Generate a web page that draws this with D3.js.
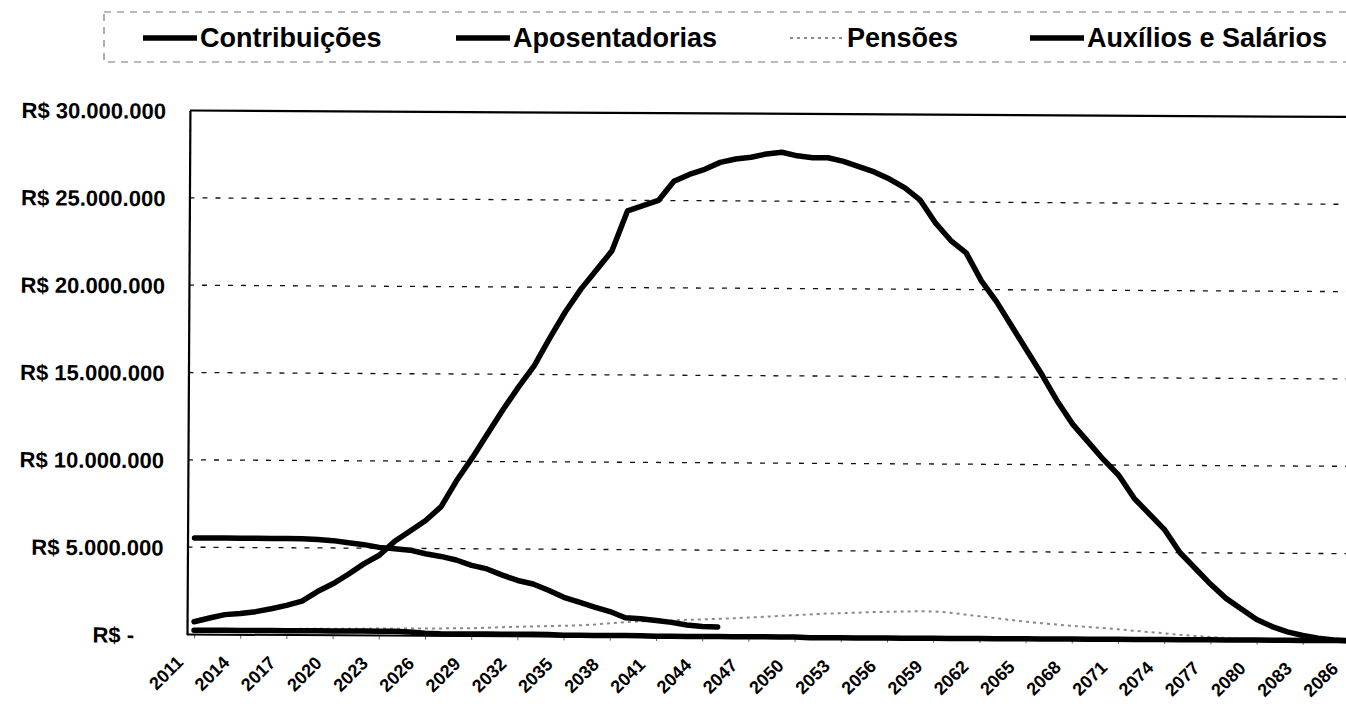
<!DOCTYPE html>
<html>
<head>
<meta charset="utf-8">
<script src="https://cdn.jsdelivr.net/npm/d3@7"></script>
<style>
  body { margin: 0; background: #fff; }
  svg { display: block; font-family: 'Liberation Sans', Arial, sans-serif; font-weight: bold; }
</style>
</head>
<body>
<svg id="chart"></svg>
<script>
const CHART_WIDTH = 1346
const CHART_HEIGHT = 704

// plot box (the right edge of the scanned chart is cut off by the picture)
const PLOT = { left: 187, right: 1365, top: 110.5, bottom: 634.5 }
const FIRST_X = 194
const LAST_X = 1349
const SCAN_TILT = 0.32

// ===================================================================

const YEARS = d3.range(2011, 2087)
const TICK_YEARS = [2011, 2014, 2017, 2020, 2023, 2026, 2029, 2032, 2035, 2038, 2041, 2044, 2047, 2050,
  2053, 2056, 2059, 2062, 2065, 2068, 2071, 2074, 2077, 2080, 2083, 2086]
const Y_TICKS = [0, 5, 10, 15, 20, 25, 30]

// values in millions of R$, one per year 2011..2086
const CONTRIBUICOES = [
  5.53, 5.53, 5.53, 5.53, 5.53, 5.53, 5.53, 5.52, 5.48, 5.42,
  5.30, 5.20, 5.05, 4.98, 4.90, 4.70, 4.55, 4.35, 4.05, 3.85,
  3.50, 3.20, 3.00, 2.65, 2.25, 1.98, 1.70, 1.45, 1.10, 1.05,
  0.95, 0.85, 0.70, 0.62, 0.60
]

const APOSENTADORIAS = [
  0.73, 0.95, 1.15, 1.22, 1.33, 1.50, 1.70, 1.95, 2.50, 2.95,
  3.50, 4.10, 4.60, 5.40, 6.00, 6.60, 7.40, 8.90, 10.2, 11.6,
  13.0, 14.3, 15.5, 17.1, 18.6, 19.9, 21.0, 22.1, 24.4, 24.7,
  25.0, 26.1, 26.5, 26.8, 27.2, 27.4, 27.5, 27.7, 27.8, 27.6,
  27.5, 27.5, 27.3, 27.0, 26.7, 26.3, 25.8, 25.1, 23.8, 22.8,
  22.1, 20.5, 19.3, 17.9, 16.5, 15.1, 13.6, 12.3, 11.3, 10.3,
  9.40, 8.10, 7.20, 6.30, 5.00, 4.10, 3.20, 2.40, 1.80, 1.20,
  0.80, 0.50, 0.30, 0.15, 0.05, 0.00
]

const PENSOES = [
  0.30, 0.30, 0.30, 0.32, 0.33, 0.34, 0.35, 0.36, 0.37, 0.38,
  0.38, 0.39, 0.40, 0.40, 0.41, 0.42, 0.43, 0.44, 0.45, 0.48,
  0.52, 0.55, 0.57, 0.60, 0.62, 0.65, 0.70, 0.78, 0.85, 0.90,
  0.93, 0.96, 1.00, 1.03, 1.07, 1.10, 1.15, 1.20, 1.25, 1.30,
  1.35, 1.40, 1.43, 1.46, 1.50, 1.52, 1.55, 1.56, 1.56, 1.50,
  1.40, 1.30, 1.20, 1.10, 1.00, 0.92, 0.85, 0.78, 0.72, 0.66,
  0.60, 0.52, 0.45, 0.38, 0.30, 0.24, 0.18, 0.13, 0.09, 0.06,
  0.04, 0.02, 0.01, 0.00, 0.00, 0.00
]

const AUXILIOS = [
  0.25, 0.25, 0.25, 0.25, 0.25, 0.25, 0.25, 0.25, 0.25, 0.25,
  0.25, 0.25, 0.25, 0.25, 0.22, 0.15, 0.12, 0.12, 0.12, 0.12,
  0.12, 0.12, 0.12, 0.12, 0.08, 0.08, 0.08, 0.08, 0.08, 0.08,
  0.05, 0.05, 0.05, 0.05, 0.05, 0.05, 0.05, 0.05, 0.05, 0.05,
  0.02, 0.02, 0.02, 0.02, 0.02, 0.02, 0.02, 0.02, 0.02, 0.02,
  0.02, 0.02, 0.02, 0.02, 0.02, 0.02, 0.02, 0.02, 0.02, 0.02,
  0.02, 0.02, 0.02, 0.02, 0.02, 0.02, 0.02, 0.02, 0.02, 0.02,
  0.02, 0.02, 0.02, 0.02, 0.02, 0.02
]

// ===================================================================

const THICK_STYLE = {
  fill: 'none',
  stroke: '#000',
  'stroke-width': 5.5,
  'stroke-linejoin': 'round',
  'stroke-linecap': 'round'
}

const DOTTED_STYLE = {
  fill: 'none',
  stroke: '#8a8a8a',
  'stroke-width': 2,
  'stroke-dasharray': '3,4'
}

// drawing order: last one on top
const SERIES = [
  { name: 'Pensões', values: PENSOES, style: DOTTED_STYLE },
  { name: 'Auxílios e Salários', values: AUXILIOS, style: THICK_STYLE },
  { name: 'Contribuições', values: CONTRIBUICOES, style: THICK_STYLE },
  { name: 'Aposentadorias', values: APOSENTADORIAS, style: THICK_STYLE }
]

const LEGEND = [
  { name: 'Contribuições', x: 143, style: THICK_STYLE },
  { name: 'Aposentadorias', x: 456, style: THICK_STYLE },
  { name: 'Pensões', x: 790, style: DOTTED_STYLE },
  { name: 'Auxílios e Salários', x: 1030, style: THICK_STYLE }
]

// ===================================================================

function setStyles (sel, style) {
  Object.keys(style).forEach(key => sel.attr(key, style[key]))
  return sel
}

const brl = d3.formatLocale({ decimal: ',', thousands: '.', grouping: [3], currency: ['R$ ', ''] })
const formatMoney = brl.format('$,.0f')

const x = d3.scalePoint()
  .domain(YEARS)
  .range([FIRST_X, LAST_X])

const y = d3.scaleLinear()
  .domain([0, 30])
  .range([PLOT.bottom, PLOT.top])

const svg = d3.select('#chart')
  .attr('width', CHART_WIDTH)
  .attr('height', CHART_HEIGHT)

svg.append('rect')
  .attr('width', '100%')
  .attr('height', '100%')
  .attr('fill', 'white')

// legend box
svg.append('rect')
  .attr('x', 104)
  .attr('y', 12)
  .attr('width', 1300)
  .attr('height', 50)
  .attr('fill', 'none')
  .attr('stroke', '#777')
  .attr('stroke-width', 1.2)
  .attr('stroke-dasharray', '7,6')

const legendItem = svg.append('g')
  .selectAll('g')
  .data(LEGEND)
  .join('g')
  .attr('transform', d => `translate(${d.x}, 38)`)

legendItem.each(function (d) {
  setStyles(d3.select(this).append('line'), d.style)
    .attr('x1', 0)
    .attr('x2', 54)
    .attr('stroke-linecap', 'butt')
})

legendItem.append('text')
  .attr('x', 57)
  .attr('y', 9)
  .attr('font-size', 27)
  .text(d => d.name)

// chart group, turned a little like the scanned page
const g = svg.append('g')
  .attr('transform', `rotate(${SCAN_TILT}, ${PLOT.left}, ${PLOT.bottom})`)

g.append('g')
  .selectAll('line')
  .data(Y_TICKS.filter(v => v > 0 && v < 30))
  .join('line')
  .attr('x1', PLOT.left)
  .attr('x2', PLOT.right)
  .attr('y1', d => y(d))
  .attr('y2', d => y(d))
  .attr('stroke', '#111')
  .attr('stroke-width', 1.3)
  .attr('stroke-dasharray', '5,8')

// top border of the plot area
g.append('line')
  .attr('x1', PLOT.left)
  .attr('x2', PLOT.right)
  .attr('y1', PLOT.top)
  .attr('y2', PLOT.top)
  .attr('stroke', '#000')
  .attr('stroke-width', 2.2)

// x axis
const xAxis = g.append('g')
  .attr('transform', `translate(0, ${PLOT.bottom})`)
  .call(d3.axisBottom(x).tickValues(TICK_YEARS).tickSize(4).tickSizeOuter(0))

xAxis.select('.domain').remove()
xAxis.selectAll('.tick line').attr('stroke', '#666')
xAxis.selectAll('.tick text')
  .attr('x', 0)
  .attr('y', 0)
  .attr('dy', null)
  .attr('text-anchor', 'end')
  .attr('transform', 'translate(-10, 29) rotate(-45)')
  .attr('font-size', 18)
  .attr('font-weight', 'bold')
  .attr('fill', '#000')

xAxis.append('line')
  .attr('x1', PLOT.left)
  .attr('x2', PLOT.right)
  .attr('stroke', '#000')
  .attr('stroke-width', 2)

// y axis
const yAxis = g.append('g')
  .attr('transform', `translate(${PLOT.left}, 0)`)
  .call(d3.axisLeft(y)
    .tickValues(Y_TICKS)
    .tickSize(0)
    .tickSizeOuter(0)
    .tickPadding(24)
    .tickFormat(v => v === 0 ? 'R$ -' : formatMoney(v * 1e6)))

yAxis.select('.domain')
  .attr('stroke', '#000')
  .attr('stroke-width', 2.2)
yAxis.selectAll('.tick text')
  .attr('font-size', 22)
  .attr('font-weight', 'bold')
  .attr('fill', '#000')
  .attr('dy', '0.36em')
yAxis.selectAll('.tick text')
  .filter(d => d === 0)
  .attr('dx', -29)

// series
const line = d3.line()
  .defined(d => d != null)
  .x((d, i) => x(YEARS[i]))
  .y(d => y(d))

SERIES.forEach(s => {
  setStyles(g.append('path').datum(s.values), s.style)
    .attr('d', line)
})
</script>
</body>
</html>
